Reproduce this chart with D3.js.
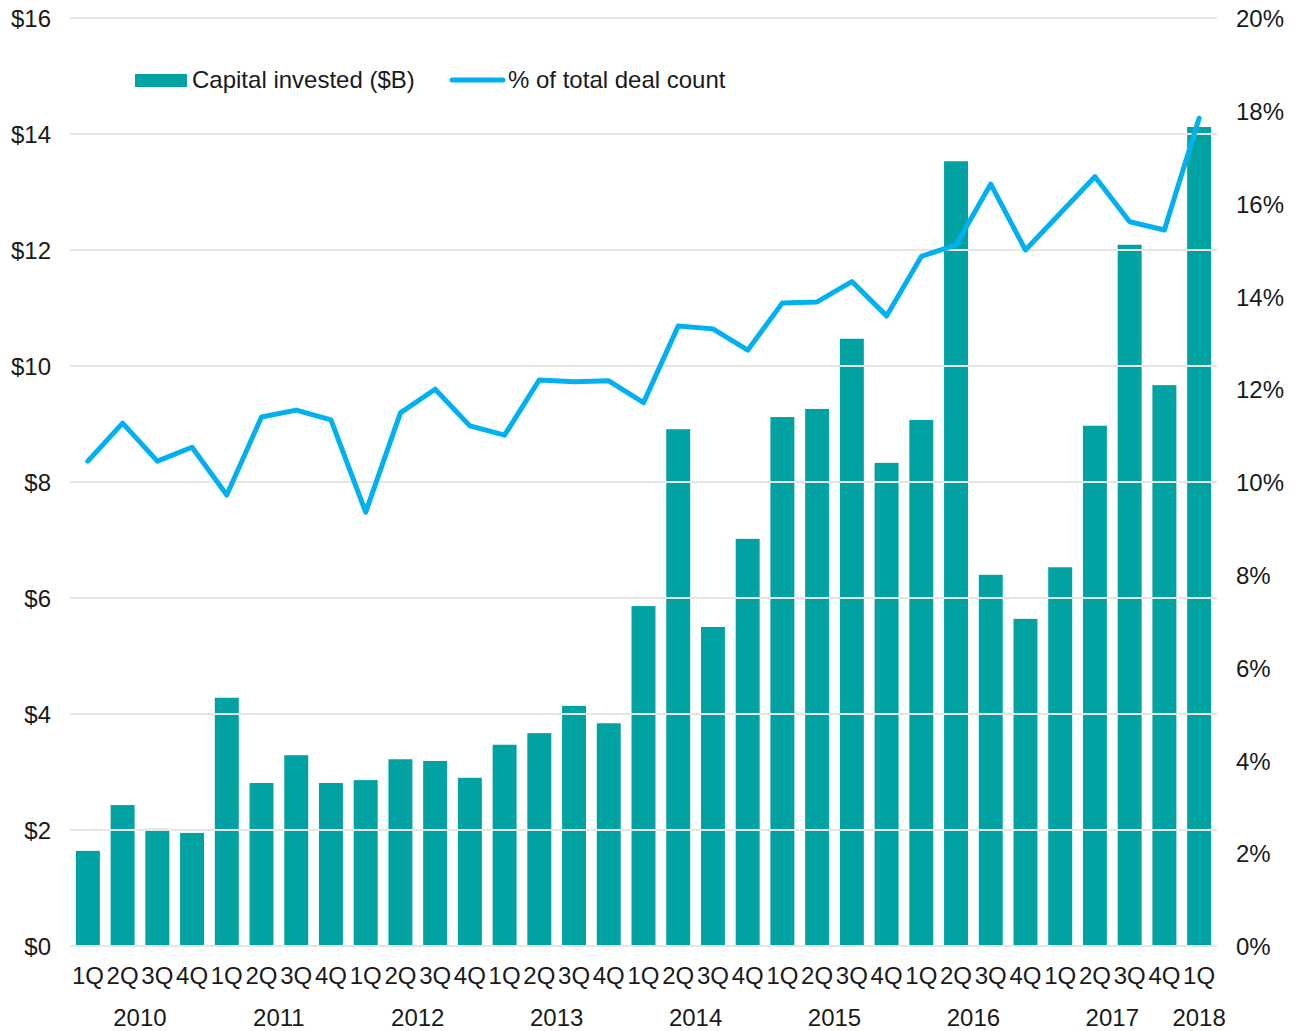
<!DOCTYPE html>
<html>
<head>
<meta charset="utf-8">
<script src="https://cdn.jsdelivr.net/npm/d3@7"></script>
<style>
  html, body { margin: 0; padding: 0; background: #fff; }
  svg text { font-family: "Liberation Sans", Arial, sans-serif; fill: #1a1a1a; }
</style>
</head>
<body>
<svg id="chart" width="1301" height="1031"></svg>
<script>
// Quarters 1Q 2010 through 1Q 2018
const quarters = ["1Q","2Q","3Q","4Q","1Q","2Q","3Q","4Q","1Q","2Q","3Q","4Q",
                  "1Q","2Q","3Q","4Q","1Q","2Q","3Q","4Q","1Q","2Q","3Q","4Q",
                  "1Q","2Q","3Q","4Q","1Q","2Q","3Q","4Q","1Q"];
const years = ["2010","2011","2012","2013","2014","2015","2016","2017","2018"];

// Capital invested ($B)
const capital = [1.64, 2.43, 2.02, 1.95, 4.28, 2.81, 3.29, 2.81, 2.86, 3.22, 3.19, 2.90,
                 3.47, 3.67, 4.14, 3.84, 5.86, 8.91, 5.50, 7.02, 9.12, 9.26, 10.47, 8.33,
                 9.07, 13.53, 6.40, 5.64, 6.53, 8.97, 12.09, 9.67, 14.12];

// % of total deal count
const dealShare = [10.45, 11.27, 10.45, 10.75, 9.72, 11.40, 11.55, 11.34, 9.35, 11.49, 12.0, 11.21,
                   11.01, 12.2, 12.16, 12.18, 11.71, 13.36, 13.30, 12.84, 13.86, 13.88, 14.32, 13.58,
                   14.86, 15.11, 16.42, 15.0, 15.79, 16.58, 15.61, 15.43, 17.84];

const leftTicks = [0, 2, 4, 6, 8, 10, 12, 14, 16];
const rightTicks = [0, 2, 4, 6, 8, 10, 12, 14, 16, 18, 20];

const svg = d3.select("#chart");
const x0 = 70, x1 = 1217, yTop = 18, yBottom = 946;

const idx = d3.range(quarters.length);
const x = d3.scaleBand().domain(idx).range([x0, x1]).paddingInner(0.31).paddingOuter(0.17);
const yL = d3.scaleLinear().domain([0, 16]).range([yBottom, yTop]);
const yR = d3.scaleLinear().domain([0, 20]).range([yBottom, yTop]);

const teal = "#00a3a1", blue = "#00b0f0", grid = "#e6e5df";

// Bars
svg.append("g").selectAll("rect").data(capital).join("rect")
  .attr("x", (d, i) => x(i))
  .attr("width", x.bandwidth())
  .attr("y", d => yL(d))
  .attr("height", d => yL(0) - yL(d))
  .attr("fill", teal);

// Horizontal gridlines (drawn over bars)
svg.append("g").selectAll("line").data(leftTicks).join("line")
  .attr("x1", x0).attr("x2", x1)
  .attr("y1", d => yL(d)).attr("y2", d => yL(d))
  .attr("stroke", grid).attr("stroke-width", 2);

// Left axis labels
const leftAxis = d3.axisLeft(yL).tickValues(leftTicks).tickFormat(d => "$" + d).tickSize(0).tickPadding(0);
svg.append("g").attr("transform", "translate(51,0)").call(leftAxis)
  .call(g => g.select(".domain").remove())
  .selectAll("text").attr("font-size", 24).attr("dy", "0.36em")
  .style("font-family", "'Liberation Sans', Arial, sans-serif").attr("fill", "#1a1a1a");

// Right axis labels
const rightAxis = d3.axisRight(yR).tickValues(rightTicks).tickFormat(d => d + "%").tickSize(0).tickPadding(0);
svg.append("g").attr("transform", "translate(1236,0)").call(rightAxis)
  .call(g => g.select(".domain").remove())
  .selectAll("text").attr("font-size", 24).attr("dy", "0.36em")
  .style("font-family", "'Liberation Sans', Arial, sans-serif").attr("fill", "#1a1a1a");

// Quarter labels
svg.append("g").selectAll("text").data(quarters).join("text")
  .attr("x", (d, i) => x(i) + x.bandwidth() / 2)
  .attr("y", 984)
  .attr("text-anchor", "middle")
  .attr("font-size", 24)
  .text(d => d);

// Year labels centred under their quarters
const yearCenters = years.map((yr, k) => {
  const first = k * 4, last = Math.min(k * 4 + 3, quarters.length - 1);
  return (x(first) + x(last) + x.bandwidth()) / 2;
});
svg.append("g").selectAll("text").data(years).join("text")
  .attr("x", (d, k) => yearCenters[k])
  .attr("y", 1026)
  .attr("text-anchor", "middle")
  .attr("font-size", 24)
  .text(d => d);

// Deal share line
const line = d3.line()
  .x((d, i) => x(i) + x.bandwidth() / 2)
  .y(d => yR(d));
svg.append("path").datum(dealShare)
  .attr("d", line)
  .attr("fill", "none")
  .attr("stroke", blue)
  .attr("stroke-width", 5)
  .attr("stroke-linejoin", "round")
  .attr("stroke-linecap", "round");

// Legend
const lg = svg.append("g");
lg.append("rect").attr("x", 135).attr("y", 74).attr("width", 52).attr("height", 13).attr("fill", teal);
lg.append("text").attr("x", 192).attr("y", 88).attr("font-size", 24).text("Capital invested ($B)");
lg.append("line").attr("x1", 452).attr("x2", 503).attr("y1", 80).attr("y2", 80)
  .attr("stroke", blue).attr("stroke-width", 5).attr("stroke-linecap", "round");
lg.append("text").attr("x", 508).attr("y", 88).attr("font-size", 24).text("% of total deal count");
</script>
</body>
</html>
